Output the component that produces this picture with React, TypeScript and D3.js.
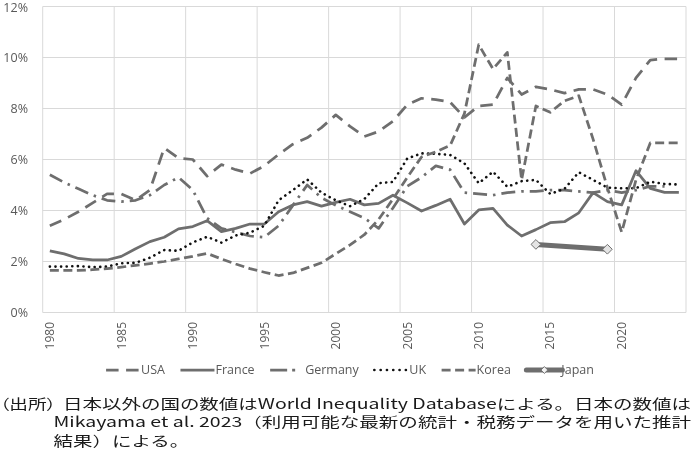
import React, { useRef, useEffect } from "react";
import * as d3 from "d3";

// 年（カテゴリ）
const years: number[] = d3.range(1980, 2025);
const xTickYears = [1980, 1985, 1990, 1995, 2000, 2005, 2010, 2015, 2020];
const yTicks = [0, 2, 4, 6, 8, 10, 12];

// 各国の値（%）
const usa = [
  3.4, 3.65, 3.95, 4.3, 4.65, 4.65, 4.4, 4.8, 6.45, 6.05,
  6.0, 5.35, 5.8, 5.6, 5.45, 5.75, 6.2, 6.6, 6.85, 7.25,
  7.75, 7.3, 6.9, 7.1, 7.5, 8.15, 8.4, 8.35, 8.25, 7.65,
  8.1, 8.15, 9.2, 8.55, 8.85, 8.75, 8.6, 8.75, 8.75, 8.55,
  8.15, 9.2, 9.9, 9.95, 9.95,
];
const france = [
  2.42, 2.3, 2.12, 2.06, 2.06, 2.2, 2.5, 2.78, 2.95, 3.28,
  3.37, 3.6, 3.17, 3.3, 3.47, 3.47, 3.95, 4.22, 4.35, 4.17,
  4.32, 4.44, 4.22, 4.28, 4.6, 4.3, 3.98, 4.2, 4.44, 3.47,
  4.02, 4.08, 3.43, 3.0, 3.25, 3.52, 3.56, 3.91, 4.7, 4.35,
  4.22, 5.56, 4.87, 4.71, 4.71,
];
const germany = [
  5.4, 5.1, 4.85, 4.6, 4.4, 4.35, 4.4, 4.6, 5.0, 5.3,
  4.8, 3.7, 3.3, 3.15, 3.0, 2.95, 3.4, 4.2, 5.0, 4.5,
  4.2, 3.95, 3.7, 3.3, 4.1, 4.95, 5.3, 5.75, 5.6, 4.7,
  4.65, 4.6, 4.7, 4.75, 4.75, 4.8, 4.8, 4.75, 4.7, 4.8,
  4.7, 4.8, 4.95, 4.95, null,
];
const uk = [
  1.8, 1.8, 1.82, 1.78, 1.8, 1.93, 1.95, 2.15, 2.45, 2.42,
  2.75, 2.97, 2.74, 3.02, 3.13, 3.4, 4.4, 4.8, 5.22, 4.7,
  4.4, 4.17, 4.45, 5.07, 5.12, 6.04, 6.24, 6.22, 6.18, 5.85,
  5.07, 5.52, 4.93, 5.15, 5.2, 4.65, 4.85, 5.5, 5.2, 4.9,
  4.87, 4.87, 5.13, 5.04, 5.02,
];
const korea = [
  1.65, 1.65, 1.65, 1.68, 1.72, 1.78, 1.85, 1.92, 2.0, 2.1,
  2.2, 2.32, 2.1, 1.9, 1.72, 1.58, 1.45, 1.55, 1.75, 1.95,
  2.3, 2.65, 3.05, 3.65, 4.45, 5.3, 6.1, 6.3, 6.55, 7.8,
  10.5, 9.55, 10.2, 5.2, 8.1, 7.85, 8.3, 8.5, 6.8, 4.9,
  3.15, 5.2, 6.65, 6.65, 6.65,
];
const japanYears = [2014, 2019];
const japan = [2.67, 2.48];

const noteHead = "（出所）";
const footnote = [
  "日本以外の国の数値はWorld Inequality Databaseによる。日本の数値は",
  "Mikayama et al. 2023（利用可能な最新の統計・税務データを用いた推計",
  "結果）による。",
];

const gray = "#6e6e6e";

const App: React.FC = () => {
  const svgRef = useRef<SVGSVGElement>(null);

  useEffect(() => {
    if (!svgRef.current) return;
    const width = 695;
    const height = 461;
    const plot = { left: 42.7, right: 686, top: 6.5, bottom: 312.5 };

    const svg = d3.select(svgRef.current).attr("width", width).attr("height", height);
    svg.selectAll("*").remove();

    const x = d3.scaleBand<number>().domain(years).range([plot.left, plot.right]);
    const y = d3.scaleLinear().domain([0, 12]).range([plot.bottom, plot.top]);
    const cx = (yr: number) => (x(yr) ?? 0) + x.bandwidth() / 2;

    // グリッド
    const grid = svg.append("g").attr("stroke", "#d9d9d9").attr("stroke-width", 1);
    grid
      .selectAll("line.h")
      .data(yTicks)
      .join("line")
      .attr("x1", plot.left)
      .attr("x2", plot.right)
      .attr("y1", (d) => y(d))
      .attr("y2", (d) => y(d));
    const vLines = [...xTickYears.map((yr) => x(yr) ?? 0), plot.right];
    grid
      .selectAll("line.v")
      .data(vLines)
      .join("line")
      .attr("x1", (d) => d)
      .attr("x2", (d) => d)
      .attr("y1", plot.top)
      .attr("y2", plot.bottom);

    // Y軸ラベル
    svg
      .append("g")
      .selectAll("text")
      .data(yTicks)
      .join("text")
      .attr("x", 28)
      .attr("y", (d) => Math.max(y(d), 7.5))
      .attr("dy", "0.35em")
      .attr("text-anchor", "end")
      .attr("font-family", "Open Sans")
      .attr("font-size", 12.5)
      .attr("fill", "#595959")
      .text((d) => `${d}%`);

    // X軸ラベル
    svg
      .append("g")
      .selectAll("text")
      .data(xTickYears)
      .join("text")
      .attr("transform", (d) => `translate(${cx(d) + 4.3},322) rotate(-90)`)
      .attr("text-anchor", "end")
      .attr("font-family", "Open Sans")
      .attr("font-size", 12)
      .attr("fill", "#595959")
      .text((d) => String(d));

    // 系列
    const series = [
      { name: "USA", values: usa, color: gray, dash: "12.5 7.5", legendDash: "12.5 7.5", cap: "butt", w: 2.75 },
      { name: "France", values: france, color: gray, dash: null, legendDash: null, cap: "butt", w: 2.75 },
      { name: "Germany", values: germany, color: gray, dash: "14 6 2.5 6", legendDash: "17 5 3 20", cap: "butt", w: 2.75 },
      { name: "UK", values: uk, color: "#111111", dash: "0.1 5.5", legendDash: "0.1 6.2", cap: "round", w: 2.6 },
      { name: "Korea", values: korea, color: gray, dash: "9 4.5", legendDash: "9 4.5", cap: "butt", w: 2.75 },
    ];

    const line = d3
      .line<number | null>()
      .defined((d) => d != null)
      .x((_, i) => cx(years[i]))
      .y((d) => y(d as number));

    series.forEach((s) => {
      svg
        .append("path")
        .datum(s.values)
        .attr("d", line)
        .attr("fill", "none")
        .attr("stroke", s.color)
        .attr("stroke-width", s.w)
        .attr("stroke-linejoin", "round")
        .attr("stroke-linecap", s.cap)
        .attr("stroke-dasharray", s.dash);
    });

    // Japan
    const jp = japanYears.map((yr, i) => [cx(yr), y(japan[i])] as [number, number]);
    svg
      .append("path")
      .attr("d", d3.line()(jp))
      .attr("fill", "none")
      .attr("stroke", gray)
      .attr("stroke-width", 5);
    const diamond = d3.symbol().type(d3.symbolDiamond2).size(60);
    svg
      .append("g")
      .selectAll("path")
      .data(jp)
      .join("path")
      .attr("transform", (d) => `translate(${d[0]},${d[1]})`)
      .attr("d", diamond())
      .attr("fill", "#e4e4e4")
      .attr("stroke", gray)
      .attr("stroke-width", 1);

    // 凡例
    const legendItems = [...series.map((s) => s.name), "Japan"];
    const legend = svg.append("g");
    const swatch = 34;
    const gap = 15.5;
    const texts = legendItems.map((name) =>
      legend
        .append("text")
        .attr("y", 370)
        .attr("dy", "0.35em")
        .attr("font-family", "Open Sans")
        .attr("font-size", 12.5)
        .attr("fill", "#595959")
        .text(name)
    );
    const widths = texts.map((t) => (t.node() as SVGTextElement).getComputedTextLength());
    const total = d3.sum(widths) + legendItems.length * (swatch + 1) + (legendItems.length - 1) * gap;
    let lx = 350 - total / 2;
    legendItems.forEach((name, i) => {
      const s = series[i];
      if (s) {
        legend
          .append("line")
          .attr("x1", lx)
          .attr("x2", lx + swatch)
          .attr("y1", 370)
          .attr("y2", 370)
          .attr("stroke", s.color)
          .attr("stroke-width", s.w)
          .attr("stroke-linecap", s.cap)
          .attr("stroke-dasharray", s.legendDash);
      } else {
        legend
          .append("line")
          .attr("x1", lx)
          .attr("x2", lx + swatch + 2)
          .attr("y1", 370)
          .attr("y2", 370)
          .attr("stroke", gray)
          .attr("stroke-width", 5)
          .attr("stroke-linecap", "round");
        legend
          .append("path")
          .attr("transform", `translate(${lx + swatch / 2 + 1},370)`)
          .attr("d", d3.symbol().type(d3.symbolDiamond2).size(30)())
          .attr("fill", "#f2f2f2")
          .attr("stroke", gray)
          .attr("stroke-width", 1);
      }
      texts[i].attr("x", lx + swatch + 1);
      lx += swatch + 1 + widths[i] + gap;
    });

    // 出所
    const note = svg
      .append("g")
      .attr("font-family", "'Noto Sans CJK JP'")
      .attr("font-size", 14)
      .attr("fill", "#1a1a1a");
    note
      .append("text")
      .attr("x", 0)
      .attr("y", 408.5)
      .style("font-feature-settings", "'palt'")
      .attr("textLength", 56)
      .attr("lengthAdjust", "spacingAndGlyphs")
      .text(noteHead);
    const noteX = [63, 53.5, 53.5];
    const noteY = [408.5, 427.3, 446];
    const lines = footnote.map((t, i) =>
      note.append("text").attr("x", noteX[i]).attr("y", noteY[i]).text(t)
    );
    const natural = lines.map((l) => (l.node() as SVGTextElement).getComputedTextLength());
    const k = 628 / natural[0];
    const targets = [628, 637.5, natural[2] * k];
    lines.forEach((l, i) =>
      l.attr("textLength", targets[i]).attr("lengthAdjust", "spacingAndGlyphs")
    );
  }, []);

  return (
    <div style={{ position: "fixed", left: 0, top: 0 }}>
      <svg ref={svgRef} style={{ display: "block" }}></svg>
    </div>
  );
};

export default App;
